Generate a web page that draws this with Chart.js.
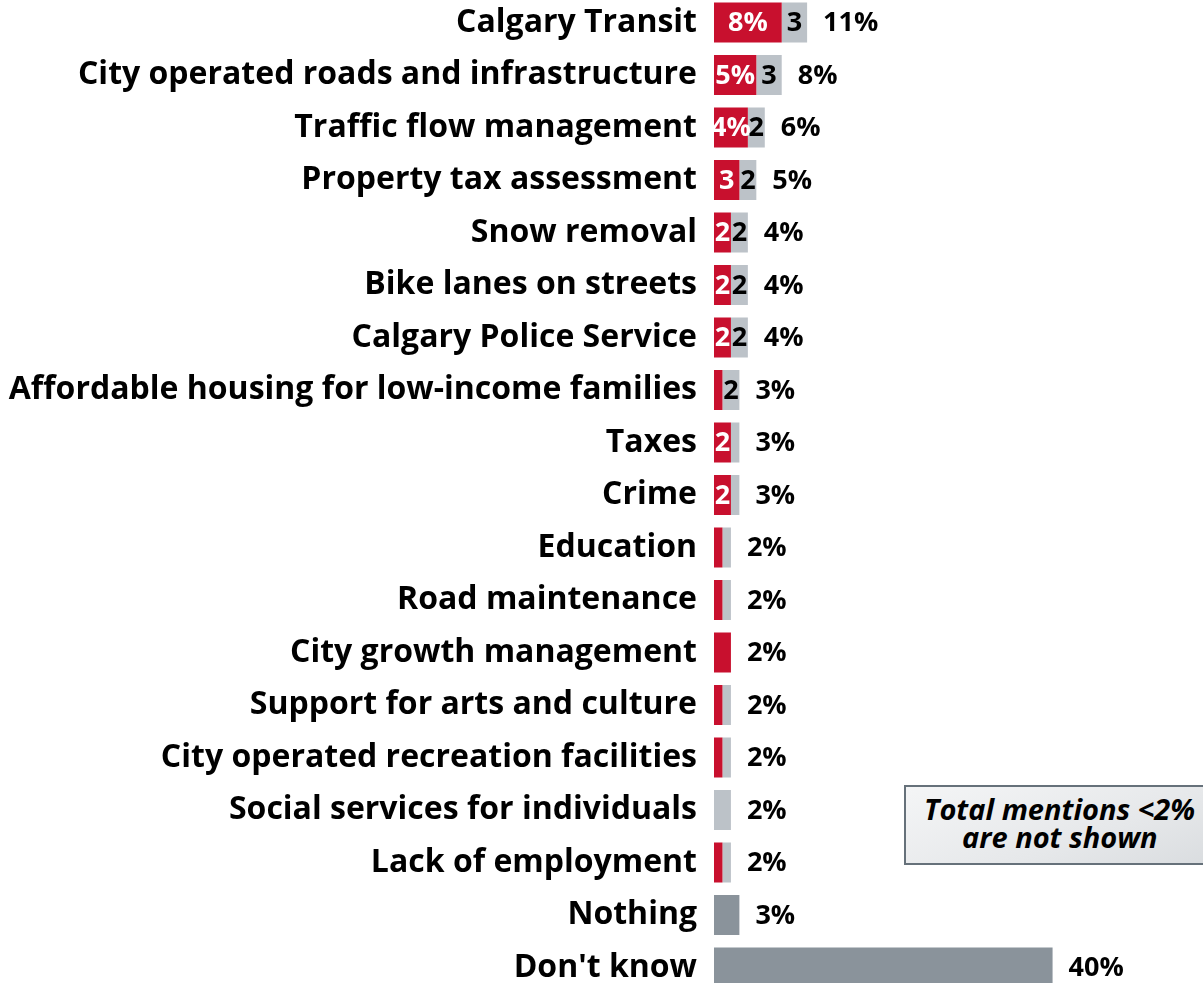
<!DOCTYPE html>
<html>
<head>
<meta charset="utf-8">
<script src="https://cdn.jsdelivr.net/npm/chart.js@4"></script>
<style>
  html, body { margin: 0; padding: 0; background: #fff; overflow: hidden; }
  #wrap { position: absolute; left: 0; top: -40px; width: 1203px; height: 1070px; }
  .note {
    position: absolute; left: 904px; top: 785px; width: 320px; height: 80px;
    border: 2px solid #66717a; box-sizing: border-box;
    background: linear-gradient(160deg, #f4f5f6 0%, #e6e8ea 60%, #d9dcdf 100%);
    font-family: "Open Sans", sans-serif; font-weight: 700; font-style: italic;
    font-size: 29px; line-height: 28px; color: #000; text-align: left;
    padding-top: 8px; padding-left: 18px;
  }
</style>
</head>
<body>
<div id="wrap"><canvas id="chart"></canvas></div>
<div class="note">Total mentions &lt;2%<br><span style="padding-left:38px">are not shown</span></div>
<script>
const categories = [
  'Calgary Transit', 'City operated roads and infrastructure', 'Traffic flow management',
  'Property tax assessment', 'Snow removal', 'Bike lanes on streets', 'Calgary Police Service',
  'Affordable housing for low-income families', 'Taxes', 'Crime', 'Education', 'Road maintenance',
  'City growth management', 'Support for arts and culture', 'City operated recreation facilities',
  'Social services for individuals', 'Lack of employment', 'Nothing', "Don't know"
];
const firstMention = [8, 5, 4, 3, 2, 2, 2, 1, 2, 2, 1, 1, 2, 1, 1, 0, 1, 0, 0];
const otherMentions = [3, 3, 2, 2, 2, 2, 2, 2, 1, 1, 1, 1, 0, 1, 1, 2, 1, 0, 0];
const noAnswer = [0, 0, 0, 0, 0, 0, 0, 0, 0, 0, 0, 0, 0, 0, 0, 0, 0, 3, 40];
const firstLabels = ['8%', '5%', '4%', '3', '2', '2', '2', '', '2', '2', '', '', '', '', '', '', '', '', ''];
const otherLabels = ['3', '3', '2', '2', '2', '2', '2', '2', '', '', '', '', '', '', '', '', '', '', ''];
const totalLabels = ['11%', '8%', '6%', '5%', '4%', '4%', '4%', '3%', '3%', '3%', '2%', '2%', '2%', '2%', '2%', '2%', '2%', '3%', '40%'];

const FONT = '"Open Sans", sans-serif';

const valueLabels = {
  id: 'valueLabels',
  afterDatasetsDraw(chart) {
    const ctx = chart.ctx;
    const xs = chart.scales.x;
    ctx.save();
    ctx.textBaseline = 'middle';
    ctx.font = `700 27px ${FONT}`;
    const inside = [[0, firstLabels, '#fff'], [1, otherLabels, '#000']];
    inside.forEach(([di, labels, color]) => {
      const meta = chart.getDatasetMeta(di);
      meta.data.forEach((bar, i) => {
        if (!labels[i]) return;
        ctx.fillStyle = color;
        ctx.textAlign = 'center';
        ctx.fillText(labels[i], (bar.x + bar.base) / 2, bar.y + 1);
      });
    });
    const meta0 = chart.getDatasetMeta(0);
    meta0.data.forEach((bar, i) => {
      const total = firstMention[i] + otherMentions[i] + noAnswer[i];
      ctx.fillStyle = '#000';
      ctx.textAlign = 'left';
      ctx.fillText(totalLabels[i], xs.getPixelForValue(total) + 16, bar.y + 1);
    });
    ctx.restore();
  }
};

const ctx = document.getElementById('chart').getContext('2d');
new Chart(ctx, {
  type: 'bar',
  data: {
    labels: categories,
    datasets: [
      { label: 'First mention', data: firstMention, backgroundColor: '#c8102e' },
      { label: 'Other mentions', data: otherMentions, backgroundColor: '#bcc2c8' },
      { label: 'Nothing / Don\'t know', data: noAnswer, backgroundColor: '#8a939b' }
    ]
  },
  options: {
    indexAxis: 'y',
    responsive: true,
    maintainAspectRatio: false,
    animation: false,
    layout: { padding: { left: 0, right: 15, top: 0, bottom: 0 } },
    datasets: { bar: { categoryPercentage: 1, barPercentage: 0.76 } },
    plugins: { legend: { display: false }, tooltip: { enabled: false } },
    scales: {
      x: { stacked: true, display: false, min: 0, max: 56 },
      y: {
        stacked: true,
        grid: { display: false, drawTicks: false },
        border: { display: false },
        ticks: { color: '#000', padding: 17, font: { family: FONT, size: 32, weight: '700' } },
        afterFit(scale) { scale.width = 714; }
      }
    }
  },
  plugins: [valueLabels]
});
</script>
</body>
</html>
